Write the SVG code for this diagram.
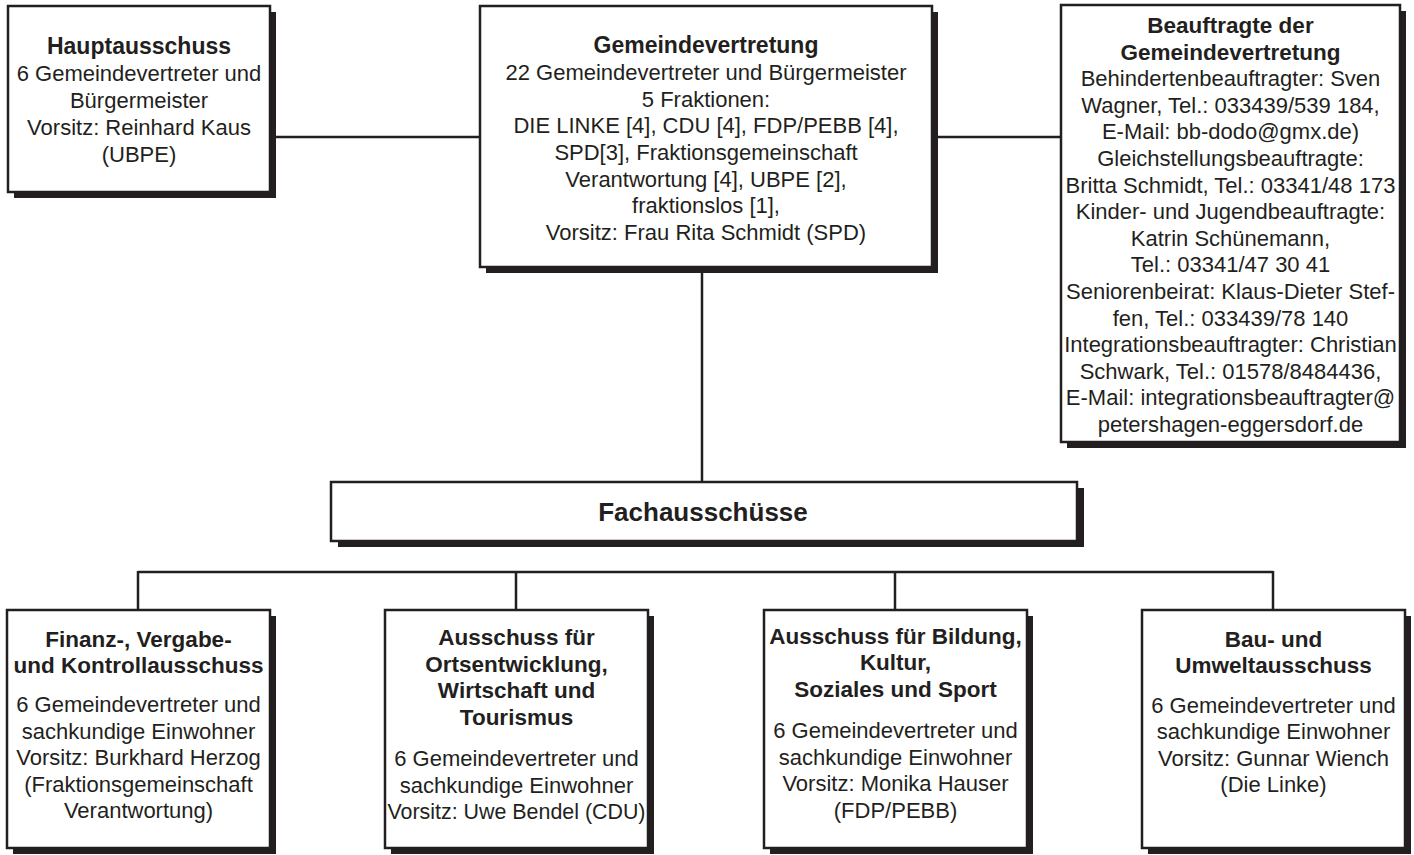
<svg xmlns="http://www.w3.org/2000/svg" width="1414" height="855" viewBox="0 0 1414 855">
<style>
.shadow{fill:#231f20}
.box{fill:#fff;stroke:#231f20;stroke-width:2.5}
.conn{stroke:#231f20;stroke-width:2.5;fill:none}
text{font-family:"Liberation Sans",Arial,Helvetica,sans-serif;fill:#231f20;text-anchor:middle}
.t{font-size:22px}
.b{font-size:22.5px;font-weight:bold}
.bt{font-size:23px;font-weight:bold}
.bf{font-size:26px;font-weight:bold}
</style>
<rect width="1414" height="855" fill="#fff"/>
<g id="connectors">
<line class="conn" x1="270" y1="137" x2="480" y2="137"/>
<line class="conn" x1="932" y1="137" x2="1061" y2="137"/>
<line class="conn" x1="702" y1="267" x2="702" y2="482"/>
<line class="conn" x1="138" y1="572" x2="1273" y2="572"/>
<line class="conn" x1="138" y1="571" x2="138" y2="610"/>
<line class="conn" x1="516" y1="572" x2="516" y2="610"/>
<line class="conn" x1="895" y1="572" x2="895" y2="610"/>
<line class="conn" x1="1273" y1="571" x2="1273" y2="610"/>
</g>
<g id="hauptausschuss">
<rect class="shadow" x="14" y="12" width="262" height="186"/>
<rect class="box" x="8" y="6" width="262" height="186"/>
<text class="bt" x="139" y="54">Hauptausschuss</text>
<text class="t" x="139" y="81">6 Gemeindevertreter und</text>
<text class="t" x="139" y="108">Bürgermeister</text>
<text class="t" x="139" y="135">Vorsitz: Reinhard Kaus</text>
<text class="t" x="139" y="162">(UBPE)</text>
</g>
<g id="gemeindevertretung">
<rect class="shadow" x="486" y="12" width="452" height="261"/>
<rect class="box" x="480" y="6" width="452" height="261"/>
<text class="bt" x="706" y="53">Gemeindevertretung</text>
<text class="t" x="706" y="80">22 Gemeindevertreter und Bürgermeister</text>
<text class="t" x="706" y="106.5">5 Fraktionen:</text>
<text class="t" x="706" y="133">DIE LINKE [4], CDU [4], FDP/PEBB [4],</text>
<text class="t" x="706" y="160">SPD[3], Fraktionsgemeinschaft</text>
<text class="t" x="706" y="186.5">Verantwortung [4], UBPE [2],</text>
<text class="t" x="706" y="213">fraktionslos [1],</text>
<text class="t" x="706" y="240">Vorsitz: Frau Rita Schmidt (SPD)</text>
</g>
<g id="beauftragte">
<rect class="shadow" x="1067" y="11" width="339" height="437"/>
<rect class="box" x="1061" y="5" width="339" height="437"/>
<text class="b" x="1230.5" y="33">Beauftragte der</text>
<text class="b" x="1230.5" y="59.6">Gemeindevertretung</text>
<text class="t" x="1230.5" y="86.2">Behindertenbeauftragter: Sven</text>
<text class="t" x="1230.5" y="112.8">Wagner, Tel.: 033439/539 184,</text>
<text class="t" x="1230.5" y="139.4">E-Mail: bb-dodo@gmx.de)</text>
<text class="t" x="1230.5" y="166">Gleichstellungsbeauftragte:</text>
<text class="t" x="1230.5" y="192.6">Britta Schmidt, Tel.: 03341/48 173</text>
<text class="t" x="1230.5" y="219.2">Kinder- und Jugendbeauftragte:</text>
<text class="t" x="1230.5" y="245.8">Katrin Schünemann,</text>
<text class="t" x="1230.5" y="272.4">Tel.: 03341/47 30 41</text>
<text class="t" x="1230.5" y="299">Seniorenbeirat: Klaus-Dieter Stef-</text>
<text class="t" x="1230.5" y="325.6">fen, Tel.: 033439/78 140</text>
<text class="t" x="1230.5" y="352.2">Integrationsbeauftragter: Christian</text>
<text class="t" x="1230.5" y="378.8">Schwark, Tel.: 01578/8484436,</text>
<text class="t" x="1230.5" y="405.4">E-Mail: integrationsbeauftragter@</text>
<text class="t" x="1230.5" y="432">petershagen-eggersdorf.de</text>
</g>
<g id="fachausschuesse">
<rect class="shadow" x="338" y="488" width="746" height="59"/>
<rect class="box" x="331" y="482" width="746" height="59"/>
<text class="bf" x="703" y="521">Fachausschüsse</text>
</g>
<g id="finanzausschuss">
<rect class="shadow" x="13" y="616" width="263" height="238"/>
<rect class="box" x="7" y="610" width="263" height="238"/>
<text class="b" x="138.5" y="646.5">Finanz-, Vergabe-</text>
<text class="b" x="138.5" y="673">und Kontrollausschuss</text>
<text class="t" x="138.5" y="712">6 Gemeindevertreter und</text>
<text class="t" x="138.5" y="738.5">sachkundige Einwohner</text>
<text class="t" x="138.5" y="765">Vorsitz: Burkhard Herzog</text>
<text class="t" x="138.5" y="791.5">(Fraktionsgemeinschaft</text>
<text class="t" x="138.5" y="818">Verantwortung)</text>
</g>
<g id="ortsentwicklung">
<rect class="shadow" x="391" y="616" width="263" height="238"/>
<rect class="box" x="385" y="610" width="263" height="238"/>
<text class="b" x="516.5" y="645">Ausschuss für</text>
<text class="b" x="516.5" y="671.5">Ortsentwicklung,</text>
<text class="b" x="516.5" y="698">Wirtschaft und</text>
<text class="b" x="516.5" y="724.5">Tourismus</text>
<text class="t" x="516.5" y="766">6 Gemeindevertreter und</text>
<text class="t" x="516.5" y="792.5">sachkundige Einwohner</text>
<text class="t" x="516.5" y="819" textLength="258" lengthAdjust="spacingAndGlyphs">Vorsitz: Uwe Bendel (CDU)</text>
</g>
<g id="bildung">
<rect class="shadow" x="770" y="616" width="263" height="238"/>
<rect class="box" x="764" y="610" width="263" height="238"/>
<text class="b" x="895.5" y="643.5">Ausschuss für Bildung,</text>
<text class="b" x="895.5" y="670">Kultur,</text>
<text class="b" x="895.5" y="696.5">Soziales und Sport</text>
<text class="t" x="895.5" y="738">6 Gemeindevertreter und</text>
<text class="t" x="895.5" y="764.5">sachkundige Einwohner</text>
<text class="t" x="895.5" y="791">Vorsitz: Monika Hauser</text>
<text class="t" x="895.5" y="817.5">(FDP/PEBB)</text>
</g>
<g id="bauausschuss">
<rect class="shadow" x="1148" y="616" width="263" height="238"/>
<rect class="box" x="1142" y="610" width="263" height="238"/>
<text class="b" x="1273.5" y="646.5">Bau- und</text>
<text class="b" x="1273.5" y="673">Umweltausschuss</text>
<text class="t" x="1273.5" y="712.5">6 Gemeindevertreter und</text>
<text class="t" x="1273.5" y="739">sachkundige Einwohner</text>
<text class="t" x="1273.5" y="765.5">Vorsitz: Gunnar Wiench</text>
<text class="t" x="1273.5" y="792">(Die Linke)</text>
</g>
</svg>
